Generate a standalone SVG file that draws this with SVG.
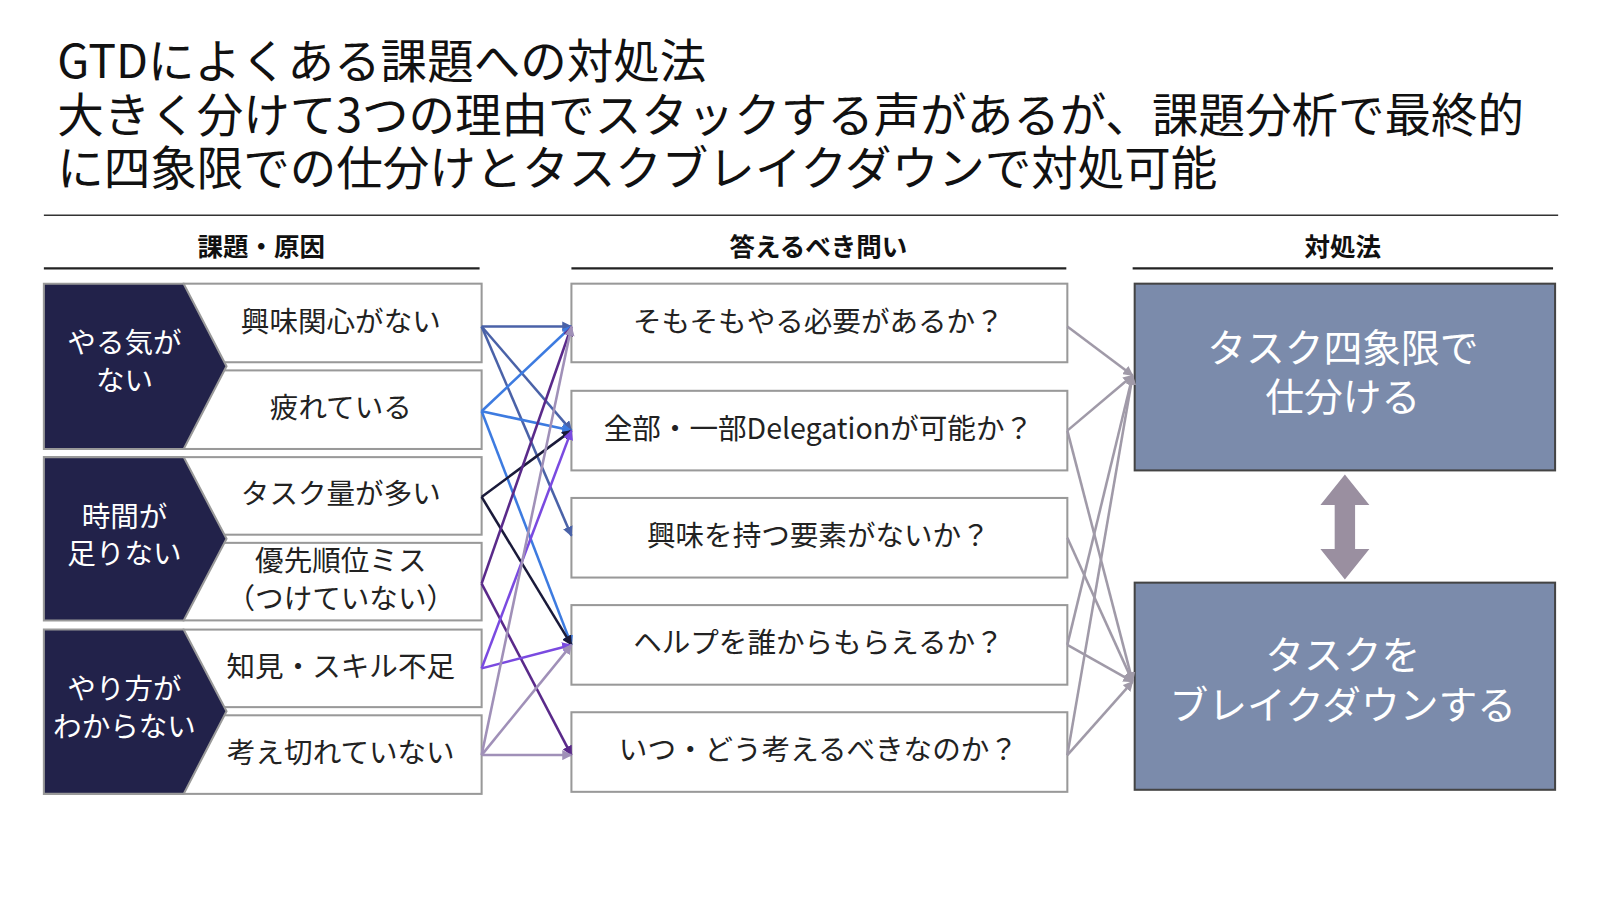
<svg xmlns="http://www.w3.org/2000/svg" width="1600" height="900" viewBox="0 0 1600 900">
<style>
text{font-family:"Noto Sans CJK JP","Noto Sans",sans-serif}
.t{font-size:45.6px;fill:#111}
.h{font-size:25px;font-weight:bold;fill:#111;text-anchor:middle}
.row{fill:#fff;stroke:#999;stroke-width:2}
.rt{font-size:28px;fill:#222;text-anchor:middle}
.chev{fill:#22224a;stroke:#999;stroke-width:2}
.ct{font-size:28px;fill:#fff;text-anchor:middle}
.act{fill:#7b8bab;stroke:#444;stroke-width:2}
.at{font-size:38px;fill:#fff;text-anchor:middle}
.c{fill:none;stroke-width:2.5}
</style>
<defs>
<marker id="m" viewBox="0 0 10 10" refX="9" refY="5" markerWidth="4" markerHeight="4" orient="auto"><path d="M0,0L10,5L0,10z" fill="context-stroke"/></marker>
</defs>
<rect width="1600" height="900" fill="#fff"/>
<g transform="scale(1.0204)">
<text class="t" x="56" y="76">GTDによくある課題への対処法</text>
<text class="t" x="56" y="129">大きく分けて3つの理由でスタックする声があるが、課題分析で最終的</text>
<text class="t" x="56" y="181">に四象限での仕分けとタスクブレイクダウンで対処可能</text>
<line x1="43" y1="211" x2="1527" y2="211" stroke="#333" stroke-width="1.5"/>
<text class="h" x="256" y="251">課題・原因</text>
<line x1="43" y1="263" x2="470" y2="263" stroke="#222" stroke-width="2"/>
<text class="h" x="802" y="251">答えるべき問い</text>
<line x1="560" y1="263" x2="1045" y2="263" stroke="#222" stroke-width="2"/>
<text class="h" x="1316" y="251">対処法</text>
<line x1="1110" y1="263" x2="1522" y2="263" stroke="#222" stroke-width="2"/>

<g id="row1"><rect class="row" x="180" y="278" width="292" height="77"/><text class="rt" x="334" y="325">興味関心がない</text></g>
<g id="row2"><rect class="row" x="180" y="363" width="292" height="77"/><text class="rt" x="334" y="410">疲れている</text></g>
<g id="row3"><rect class="row" x="180" y="448" width="292" height="76"/><text class="rt" x="334" y="494">タスク量が多い</text></g>
<g id="row4"><rect class="row" x="180" y="532" width="292" height="76"/><text class="rt" x="334" y="560">優先順位ミス</text><text class="rt" x="334" y="597">（つけていない）</text></g>
<g id="row5"><rect class="row" x="180" y="617" width="292" height="76"/><text class="rt" x="334" y="663">知見・スキル不足</text></g>
<g id="row6"><rect class="row" x="180" y="701" width="292" height="77"/><text class="rt" x="334" y="748">考え切れていない</text></g>

<g id="cat1"><polygon class="chev" points="43,278 180,278 222,359 180,440 43,440"/><text class="ct" x="122" y="346">やる気が</text><text class="ct" x="122" y="383">ない</text></g>
<g id="cat2"><polygon class="chev" points="43,448 180,448 222,528 180,608 43,608"/><text class="ct" x="122" y="516">時間が</text><text class="ct" x="122" y="553">足りない</text></g>
<g id="cat3"><polygon class="chev" points="43,617 180,617 222,697 180,778 43,778"/><text class="ct" x="122" y="685">やり方が</text><text class="ct" x="122" y="722">わからない</text></g>

<g id="q1"><rect class="row" x="560" y="278" width="486" height="77"/><text class="rt" x="802" y="325">そもそもやる必要があるか？</text></g>
<g id="q2"><rect class="row" x="560" y="383" width="486" height="78"/><text class="rt" x="802" y="430">全部・一部Delegationが可能か？</text></g>
<g id="q3"><rect class="row" x="560" y="488" width="486" height="78"/><text class="rt" x="802" y="535">興味を持つ要素がないか？</text></g>
<g id="q4"><rect class="row" x="560" y="593" width="486" height="78"/><text class="rt" x="802" y="640">ヘルプを誰からもらえるか？</text></g>
<g id="q5"><rect class="row" x="560" y="698" width="486" height="78"/><text class="rt" x="802" y="745">いつ・どう考えるべきなのか？</text></g>

<g id="a1"><rect class="act" x="1112" y="278" width="412" height="183"/><text class="at" x="1316" y="355">タスク四象限で</text><text class="at" x="1316" y="403">仕分ける</text></g>
<g id="a2"><rect class="act" x="1112" y="571" width="412" height="203"/><text class="at" x="1316" y="656">タスクを</text><text class="at" x="1316" y="705">ブレイクダウンする</text></g>

<g id="connectors">
<path d="M1318,465 L1342,495 L1328,495 L1328,538 L1342,538 L1318,568 L1294,538 L1308,538 L1308,495 L1294,495 Z" fill="#9a8fa0"/>
<g class="c" stroke="#4a62a8">
<path d="M472,320 L560,320" marker-end="url(#m)"/><path d="M472,320 L560,422" marker-end="url(#m)"/><path d="M472,320 L560,525" marker-end="url(#m)"/></g>
<g class="c" stroke="#3d7be0">
<path d="M472,403 L560,320" marker-end="url(#m)"/><path d="M472,403 L560,422" marker-end="url(#m)"/><path d="M472,403 L560,632" marker-end="url(#m)"/></g>
<g class="c" stroke="#1a1a3a">
<path d="M472,487 L560,422" marker-end="url(#m)"/><path d="M472,487 L560,632" marker-end="url(#m)"/></g>
<g class="c" stroke="#5a2a8a">
<path d="M472,572 L560,320" marker-end="url(#m)"/><path d="M472,572 L560,740" marker-end="url(#m)"/></g>
<g class="c" stroke="#7a4ae0">
<path d="M472,655 L560,422" marker-end="url(#m)"/><path d="M472,655 L560,632" marker-end="url(#m)"/></g>
<g class="c" stroke="#a090b8">
<path d="M472,740 L560,320" marker-end="url(#m)"/><path d="M472,740 L560,632" marker-end="url(#m)"/><path d="M472,740 L560,740" marker-end="url(#m)"/></g>
<g class="c" stroke="#a09aa8">
<path d="M1046,320 L1110,368" marker-end="url(#m)"/>
<path d="M1046,422 L1110,368" marker-end="url(#m)"/><path d="M1046,422 L1110,668" marker-end="url(#m)"/>
<path d="M1046,527 L1110,668" marker-end="url(#m)"/>
<path d="M1046,632 L1110,368" marker-end="url(#m)"/><path d="M1046,632 L1110,668" marker-end="url(#m)"/>
<path d="M1046,740 L1110,368" marker-end="url(#m)"/><path d="M1046,740 L1110,668" marker-end="url(#m)"/></g>
</g>
</g>
</svg>
